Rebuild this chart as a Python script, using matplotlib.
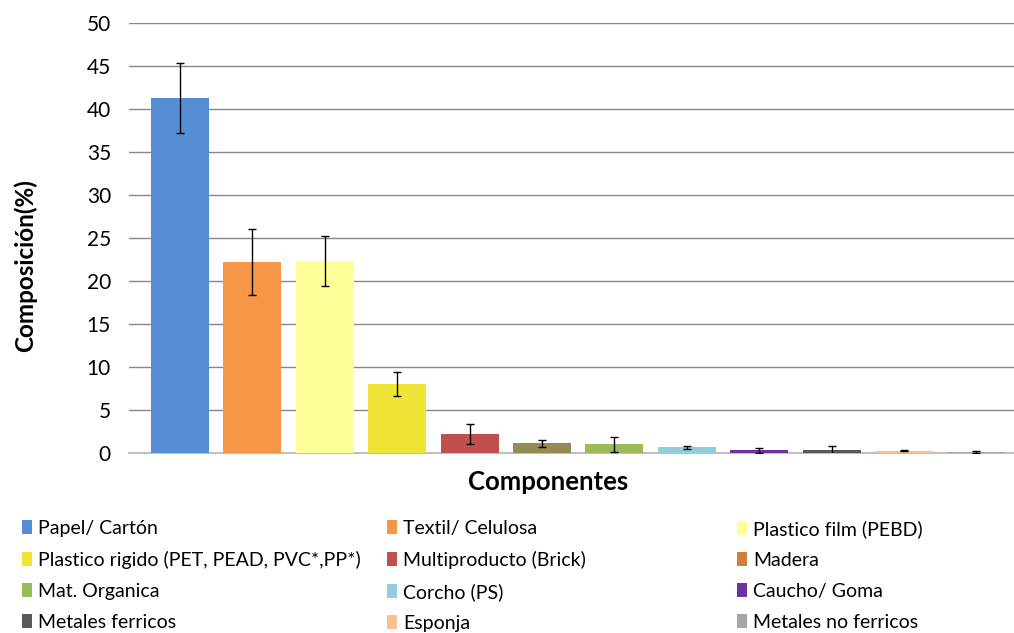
import matplotlib
matplotlib.use("Agg")
import matplotlib.pyplot as plt
from matplotlib.patches import Patch

categories = ["Papel/ Cartón", "Textil/ Celulosa", "Plastico film (PEBD)",
              "Plastico rigido (PET, PEAD, PVC*,PP*)", "Multiproducto (Brick)", "Madera",
              "Mat. Organica", "Corcho (PS)", "Caucho/ Goma",
              "Metales ferricos", "Esponja", "Metales no ferricos"]
values = [41.3, 22.2, 22.3, 8.0, 2.2, 1.15, 1.0, 0.65, 0.3, 0.3, 0.25, 0.1]
errors = [4.1, 3.8, 2.9, 1.4, 1.15, 0.4, 0.83, 0.15, 0.28, 0.55, 0.05, 0.08]
bar_colors = ["#558ED5", "#F79646", "#FFFF99", "#F0E434", "#C0504D", "#948A54",
              "#9BBB59", "#92CDDC", "#7030A0", "#595959", "#FAC090", "#A6A6A6"]
legend_colors = ["#558ED5", "#F79646", "#FFFF99", "#F0E434", "#C0504D", "#D07F3A",
                 "#9BBB59", "#92CDDC", "#7030A0", "#595959", "#FAC090", "#A6A6A6"]
yticks = list(range(0, 51, 5))

plt.rcParams['font.family'] = ['Lato', 'DejaVu Sans']

fig = plt.figure(figsize=(10.14, 6.33), dpi=100)
ax = fig.add_axes([129/1014, 1-453/633, 885/1014, 430/633])

x = list(range(len(categories)))
ax.bar(x, values, width=0.8, color=bar_colors, zorder=3)
ax.errorbar(x, values, yerr=errors, fmt='none', ecolor='black', elinewidth=1,
            capsize=3.2, capthick=1, zorder=4)

ax.set_xlim(-0.704, 11.52)
ax.set_ylim(0, 50)
ax.set_yticks(yticks)
ax.set_yticklabels([str(t) for t in yticks], fontsize=15)
ax.set_xticks([])
ax.tick_params(axis='y', length=0, pad=13)
ax.yaxis.grid(True, color='#868686', linewidth=1, zorder=0)
ax.set_axisbelow(True)
for s in ['top', 'right', 'left']:
    ax.spines[s].set_visible(False)
ax.spines['bottom'].set_color('#BFBFBF')
ax.spines['bottom'].set_linewidth(1.5)
ax.spines['bottom'].set_zorder(1)

fig.text(25/1014, 1-266/633, "Composición(%)", rotation=90, fontsize=17.5,
         fontweight='bold', ha='center', va='center')
fig.text(548/1014, 1-482/633, "Componentes", fontsize=18.5, fontweight='bold',
         ha='center', va='center')

col_x = [14, 379, 729]
for c in range(3):
    idx = [r*3 + c for r in range(4)]
    handles = [Patch(facecolor=legend_colors[i], edgecolor='none') for i in idx]
    labels = [categories[i] for i in idx]
    fig.legend(handles, labels, loc='upper left',
               bbox_to_anchor=(col_x[c]/1014, 1-512/633),
               frameon=False, fontsize=14, handlelength=0.55, handleheight=0.7,
               handletextpad=0.3, labelspacing=0.72, borderaxespad=0)

fig.savefig("out.png", dpi=100)
